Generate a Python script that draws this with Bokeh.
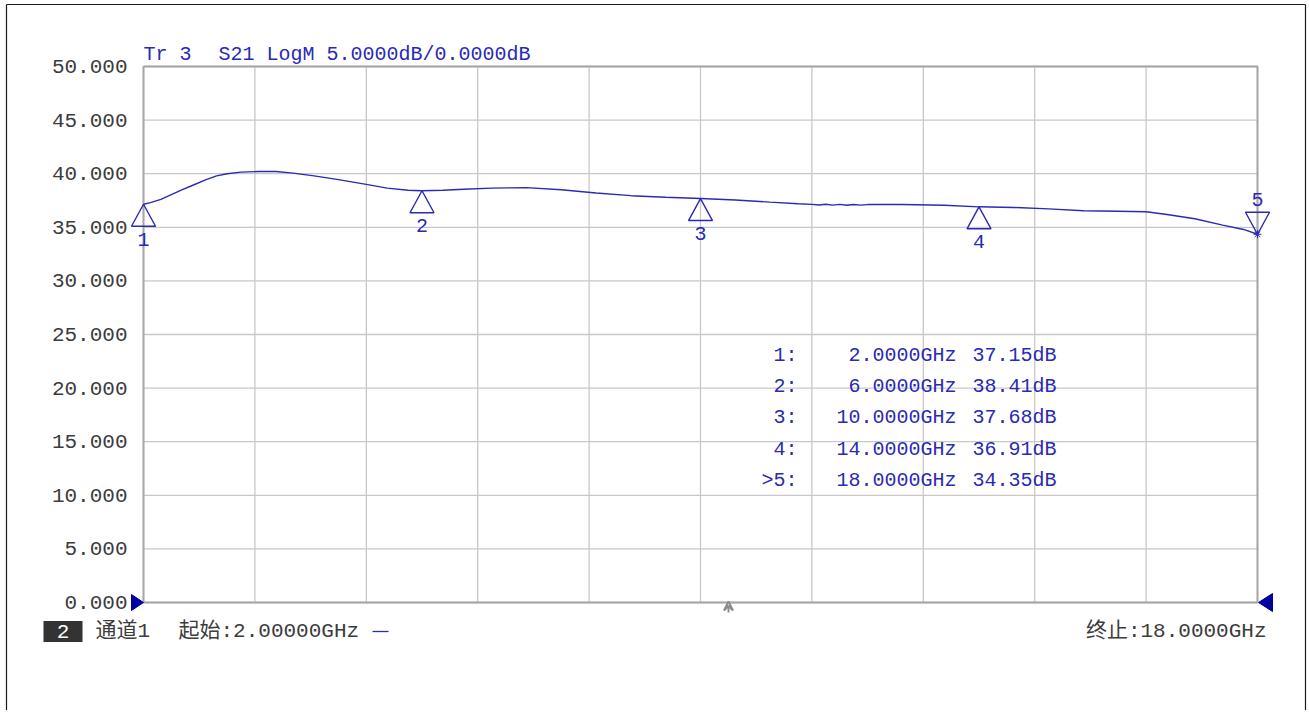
from bokeh.plotting import figure
from bokeh.models import Range1d, Arrow, VeeHead
from bokeh.core.properties import value
from bokeh.embed import file_html
from bokeh.resources import INLINE

# ---------------- data ----------------
freq_ghz = [2.0, 2.1, 2.25, 2.4, 2.55, 2.7, 2.9, 3.05, 3.2, 3.4, 3.65, 3.9,
            4.15, 4.45, 4.8, 5.2, 5.5, 5.8, 6.0, 6.3, 6.6, 7.0, 7.5, 8.0,
            8.5, 9.0, 9.5, 10.0, 10.5, 11.0, 11.4, 11.6, 11.7, 11.8, 11.9,
            12.0, 12.1, 12.2, 12.3, 12.4, 12.9, 13.5, 14.0, 14.5, 15.0,
            15.5, 16.0, 16.4, 16.7, 17.1, 17.5, 17.8, 18.0]
s21_db = [37.15, 37.3, 37.6, 38.05, 38.5, 38.9, 39.45, 39.8, 40.0, 40.15,
          40.2, 40.2, 40.05, 39.8, 39.45, 39.0, 38.65, 38.45, 38.41, 38.45,
          38.55, 38.65, 38.7, 38.5, 38.2, 37.95, 37.8, 37.68, 37.55, 37.35,
          37.2, 37.14, 37.08, 37.15, 37.07, 37.14, 37.06, 37.13, 37.07,
          37.12, 37.12, 37.05, 36.91, 36.85, 36.72, 36.55, 36.5, 36.45,
          36.2, 35.8, 35.2, 34.8, 34.35]

marker_ids = ["1", "2", "3", "4", "5"]
marker_freq = [2.0, 6.0, 10.0, 14.0, 18.0]
marker_db = [37.15, 38.41, 37.68, 36.91, 34.35]
active_marker = "5"

y_ticks = [0, 5, 10, 15, 20, 25, 30, 35, 40, 45, 50]
x_grid = [2.0, 3.6, 5.2, 6.8, 8.4, 10.0, 11.6, 13.2, 14.8, 16.4, 18.0]

trace_title_a = "Tr 3"
trace_title_b = "S21 LogM 5.0000dB/0.0000dB"
channel_box = "2"
channel_text = "通道1"
start_text = "起始:2.00000GHz"
stop_text = "终止:18.0000GHz"

# ---------------- style / geometry ----------------
X0, X1 = x_grid[0], x_grid[-1]
Y0, Y1 = y_ticks[0], y_ticks[-1]
W, H = 1307, 710
PL, PR, PT, PB = 143, 1257, 66, 602      # plot box in pixels
BLUE = "#2a2ab4"
DARK = "#3c3c3c"
MONO = value("Liberation Mono")
MIX = value("Liberation Mono, Noto Sans CJK SC")

def fx(px):   # pixel x -> data x
    return X0 + (px - PL) / (PR - PL) * (X1 - X0)

def fy(py):   # pixel y -> data y
    return Y0 + (PB - py) / (PB - PT) * (Y1 - Y0)

def dx(n):
    return n / (PR - PL) * (X1 - X0)

def dy(n):
    return n / (PB - PT) * (Y1 - Y0)

p = figure(width=W, height=H, output_backend="svg", toolbar_location=None,
           title=None, x_range=Range1d(fx(0), fx(W)), y_range=Range1d(fy(H), fy(0)),
           x_axis_location=None, y_axis_location=None, min_border=0)
p.grid.visible = False
p.outline_line_color = None
p.background_fill_color = "white"
p.border_fill_color = "white"

# outer frame
p.segment(x0=[fx(6), fx(6), fx(1305)], y0=[fy(4), fy(4), fy(4)],
          x1=[fx(1305), fx(6), fx(1305)], y1=[fy(4), fy(H + 5), fy(H + 5)],
          line_color="#1a1a1a", line_width=1.2)

# grid
n_x, n_y = len(x_grid), len(y_ticks)
p.segment(x0=x_grid, y0=[Y0] * n_x, x1=x_grid, y1=[Y1] * n_x,
          line_color="#c8c8c8", line_width=1.3)
p.segment(x0=[X0] * n_y, y0=y_ticks, x1=[X1] * n_y, y1=y_ticks,
          line_color="#c8c8c8", line_width=1.3)
p.quad(left=[X0], right=[X1], bottom=[Y0], top=[Y1], fill_color=None,
       line_color="#a6a6a6", line_width=2)

# y tick labels
p.text(x=[fx(127)] * n_y, y=y_ticks, text=[f"{t:.3f}" for t in y_ticks],
       text_font=MONO, text_font_size="21px", text_color=DARK,
       text_align="right", text_baseline="middle")

# trace
p.line(freq_ghz, s21_db, line_color=BLUE, line_width=1.4)

# markers
tw, th = 12, 22
tri_xs, tri_ys, num_y = [], [], []
for mid, mf, mv in zip(marker_ids, marker_freq, marker_db):
    sgn = -1 if mid != active_marker else 1
    tri_xs.append([mf, mf - dx(tw), mf + dx(tw)])
    tri_ys.append([mv, mv + sgn * dy(th), mv + sgn * dy(th)])
    num_y.append(mv + sgn * dy(35))
p.patches(tri_xs, tri_ys, fill_color=None, line_color=BLUE, line_width=1.4)
p.text(x=marker_freq, y=num_y, text=marker_ids, text_font=MONO,
       text_font_size="20px", text_color=BLUE,
       text_align="center", text_baseline="middle")
act = marker_ids.index(active_marker)
p.scatter([marker_freq[act]], [marker_db[act]], marker="asterisk", size=8,
          line_color=BLUE, line_width=1)

# marker table
row_y0 = 355
col1, col2, col3, rows_y = [], [], [], []
for i, (mid, mf, mv) in enumerate(zip(marker_ids, marker_freq, marker_db)):
    rows_y.append(fy(row_y0 + i * 31.2))
    col1.append((">" if mid == active_marker else "") + mid + ":")
    col2.append(f"{mf:.4f}GHz")
    col3.append(f"{mv:.2f}dB")
for col, rx in ((col1, 797), (col2, 956), (col3, 1056)):
    p.text(x=[fx(rx)] * len(col), y=rows_y, text=col, text_font=MONO,
           text_font_size="20px", text_color=BLUE,
           text_align="right", text_baseline="middle")

# title line
p.text(x=[fx(143), fx(218)], y=[fy(54)] * 2, text=[trace_title_a, trace_title_b],
       text_font=MONO, text_font_size="20px", text_color=BLUE,
       text_align="left", text_baseline="middle")

# reference-level triangles at 0 dB
p.patches([[fx(131), fx(143), fx(131)], [fx(1272), fx(1258), fx(1272)]],
          [[Y0 + dy(8), Y0, Y0 - dy(8)], [Y0 + dy(9), Y0, Y0 - dy(9)]],
          fill_color="#0000a0", line_color="#0000a0", line_width=1)

# small gray arrow under the axis
p.add_layout(Arrow(x_start=fx(728), y_start=fy(612), x_end=fx(728), y_end=fy(601),
                   line_color="#8c8c8c", line_width=2,
                   end=VeeHead(size=9, line_color="#8c8c8c", line_width=2,
                               fill_color=None)))

# bottom status line
by = fy(631)
p.rect(x=[fx(62.5)], y=[by], width=dx(39), height=dy(21),
       fill_color="#333333", line_color=None)
p.text(x=[fx(62.5)], y=[by], text=[channel_box], text_font=MONO,
       text_font_size="21px", text_color="white",
       text_align="center", text_baseline="middle")
p.text(x=[fx(95), fx(178)], y=[by, by], text=[channel_text, start_text],
       text_font=MIX, text_font_size="21px", text_color=DARK,
       text_align="left", text_baseline="middle")
p.segment(x0=[fx(372)], y0=[by], x1=[fx(388)], y1=[by],
          line_color=BLUE, line_width=1.3)
p.text(x=[fx(1266)], y=[by], text=[stop_text], text_font=MIX,
       text_font_size="21px", text_color=DARK,
       text_align="right", text_baseline="middle")

open("out.html", "w").write(file_html(p, INLINE))
